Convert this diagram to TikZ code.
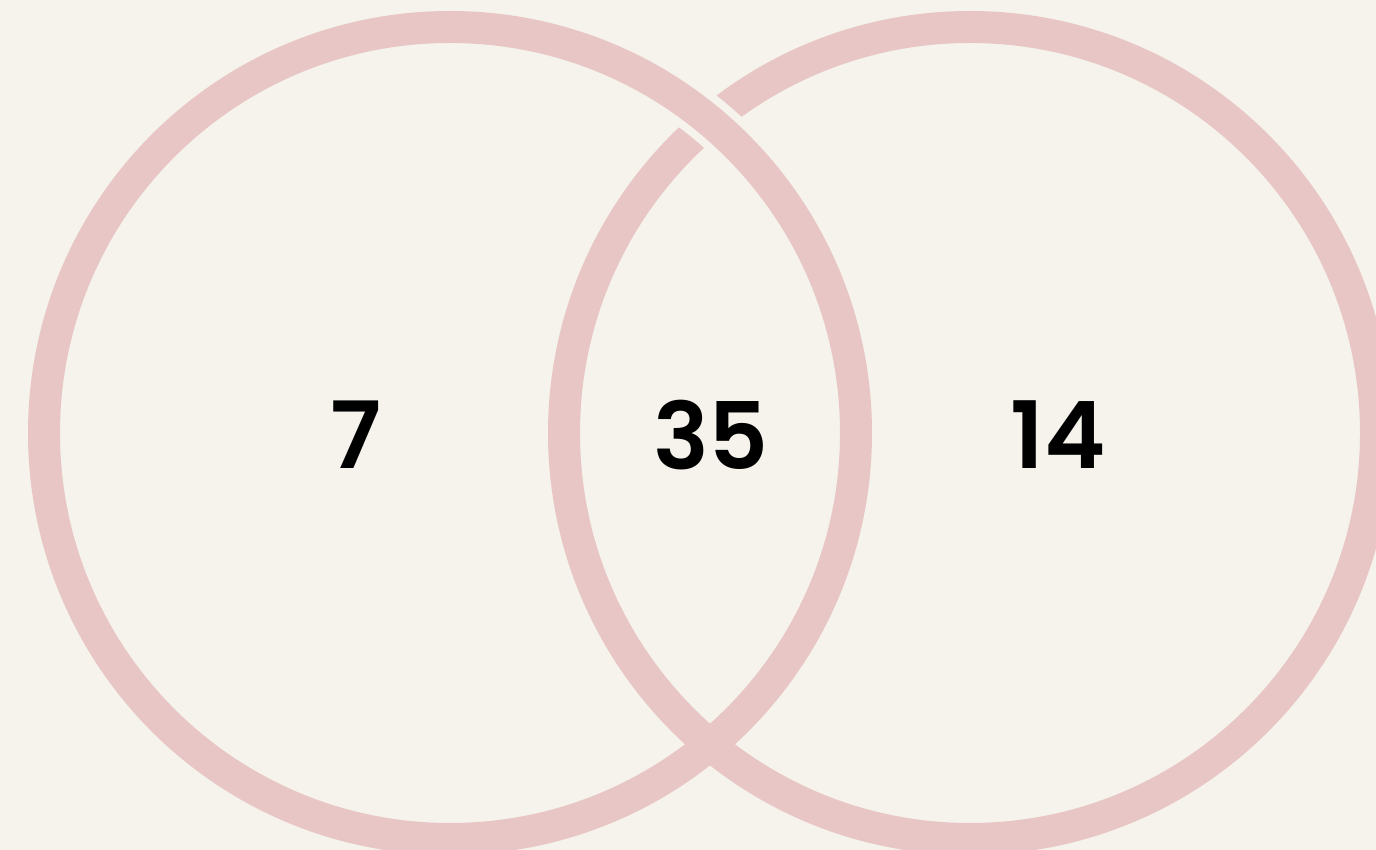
\documentclass[tikz,border=0pt]{standalone}
\usepackage{fontspec}
\setmainfont{Poppins}[BoldFont={Poppins SemiBold}]
\definecolor{bg}{HTML}{F5F3EB}
\definecolor{ring}{HTML}{E8C6C6}
\begin{document}
\begin{tikzpicture}[x=1pt,y=1pt,
  ringline/.style={draw=ring,line width=32pt},
  gapline/.style={draw=bg,line width=48pt},
  num/.style={font=\fontsize{93}{93}\selectfont\bfseries,text=black,inner sep=0pt}]
\fill[bg] (0,0) rectangle (1376,850);
\useasboundingbox (0,0) rectangle (1376,850);
\coordinate (cl) at (450,417);
\coordinate (cr) at (970,417);
\draw[ringline] (cr) circle[radius=406];
\draw[gapline] ([shift={(42:406)}]cl) arc[start angle=42,end angle=58,radius=406];
\draw[ringline] (cl) circle[radius=406];
\node[num] (a) at (356,415) {7};
\node[num] (b) at (711,415) {35};
\node[num] (c) at (1058,415) {14};
\end{tikzpicture}
\end{document}
